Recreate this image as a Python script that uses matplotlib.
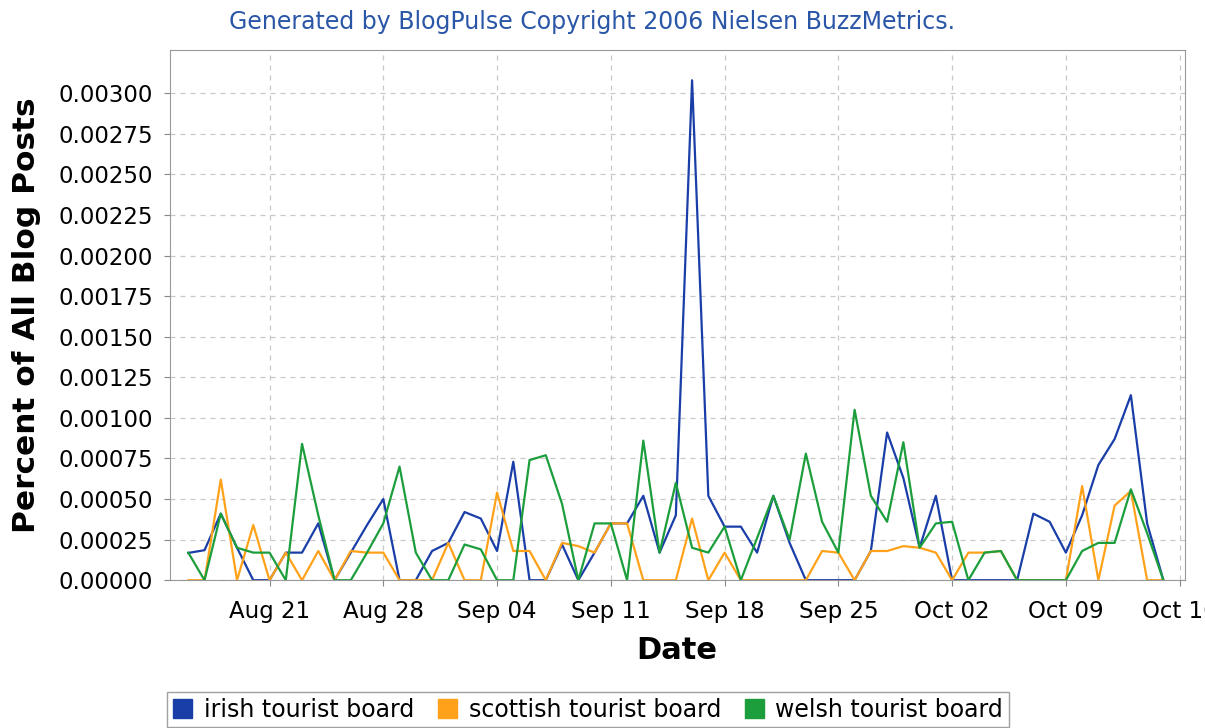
import datetime as dt

import matplotlib
matplotlib.use("Agg")
import matplotlib.pyplot as plt
import matplotlib.dates as mdates
from matplotlib.patches import Patch
from matplotlib.ticker import FixedLocator, FormatStrFormatter

start = dt.date(2006, 8, 16)
dates = [start + dt.timedelta(days=i) for i in range(61)]

irish = [0.000168, 0.000185, 0.00041, 0.0002, 0, 0, 0.00017, 0.00017, 0.00035, 0,
         0.00017, 0.00034, 0.0005, 0, 0, 0.00018, 0.00023, 0.00042, 0.00038, 0.00018,
         0.00073, 0, 0, 0.00022, 0, 0.00017, 0.00035, 0.00035, 0.00052, 0.00017,
         0.0004, 0.00308, 0.00052, 0.00033, 0.00033, 0.00017, 0.00052, 0.00023, 0, 0,
         0, 0, 0.00018, 0.00091, 0.00063, 0.0002, 0.00052, 0, 0, 0,
         0, 0, 0.00041, 0.00036, 0.00017, 0.0004, 0.00071, 0.00087, 0.00114, 0.00035,
         0]
scottish = [0, 0, 0.00062, 0, 0.00034, 0, 0.00017, 0, 0.00018, 0,
            0.00018, 0.00017, 0.00017, 0, 0, 0, 0.00023, 0, 0, 0.00054,
            0.00018, 0.00018, 0, 0.00023, 0.00021, 0.00017, 0.00035, 0.00035, 0, 0,
            0, 0.00038, 0, 0.00017, 0, 0, 0, 0, 0, 0.00018,
            0.00017, 0, 0.00018, 0.00018, 0.00021, 0.0002, 0.00017, 0, 0.00017, 0.00017,
            0.00018, 0, 0, 0, 0, 0.00058, 0, 0.00046, 0.00055, 0,
            0]
welsh = [0.00017, 0, 0.00041, 0.0002, 0.00017, 0.00017, 0, 0.00084, 0.0004, 0,
         0, 0.00017, 0.00035, 0.0007, 0.00017, 0, 0, 0.00022, 0.00019, 0,
         0, 0.00074, 0.00077, 0.00047, 0, 0.00035, 0.00035, 0, 0.00086, 0.00017,
         0.0006, 0.0002, 0.00017, 0.00033, 0, 0.00026, 0.00052, 0.00025, 0.00078, 0.00036,
         0.00017, 0.00105, 0.00052, 0.00036, 0.00085, 0.0002, 0.00035, 0.00036, 0, 0.00017,
         0.00018, 0, 0, 0, 0, 0.00018, 0.00023, 0.00023, 0.00056, 0.00029,
         0]

names = ['irish tourist board', 'scottish tourist board', 'welsh tourist board']
colors = ['#1a3ea8', '#ffa21a', '#1c9e3c']
yticks = [i * 0.00025 for i in range(13)]
xticks = [dt.date(2006, 8, 21) + dt.timedelta(days=7 * i) for i in range(9)]

fig = plt.figure(figsize=(12.05, 7.28), dpi=100)
ax = fig.add_axes([0.141, 0.203, 0.842, 0.728])

for vals, c in zip([irish, scottish, welsh], colors):
    ax.plot(dates, vals, color=c, lw=1.6)

ax.set_xlim(mdates.date2num(dt.date(2006, 8, 14)) + 0.87,
            mdates.date2num(dt.date(2006, 10, 16)) + 0.3)
ax.set_ylim(0, 0.003265)
ax.set_xticks(xticks)
ax.xaxis.set_major_formatter(mdates.DateFormatter('%b %d'))
ax.yaxis.set_major_locator(FixedLocator(yticks))
ax.yaxis.set_major_formatter(FormatStrFormatter('%.5f'))

ax.grid(True, color='#c8c8c8', ls=(0, (4, 4)), lw=0.9)
for s in ax.spines.values():
    s.set_color('#999999')
ax.tick_params(colors='#888888', labelcolor='black', labelsize=16.5, length=4)
ax.tick_params(axis='x', pad=10)
ax.tick_params(axis='y', pad=8)

ax.set_xlabel('Date', fontsize=22, fontweight='bold', va='center')
ax.set_ylabel('Percent of All Blog Posts', fontsize=22.5, fontweight='bold', va='center')
ax.xaxis.set_label_coords(0.5, -0.132)
ax.yaxis.set_label_coords(-0.141, 0.5)

fig.text(0.491, 0.97, 'Generated by BlogPulse Copyright 2006 Nielsen BuzzMetrics.',
         ha='center', va='center', fontsize=17, color='#2a56a8')

handles = [Patch(facecolor=c, edgecolor=c) for c in colors]
leg = fig.legend(handles, names, loc='upper left', bbox_to_anchor=(0.139, 0.05),
                 ncol=3, fontsize=17, frameon=True, fancybox=False,
                 edgecolor='#888888', handlelength=0.8, handleheight=0.9,
                 handletextpad=0.5, columnspacing=1.0, borderpad=0.25,
                 borderaxespad=0)
leg.get_frame().set_linewidth(1.0)

fig.savefig('out.png', dpi=100)
